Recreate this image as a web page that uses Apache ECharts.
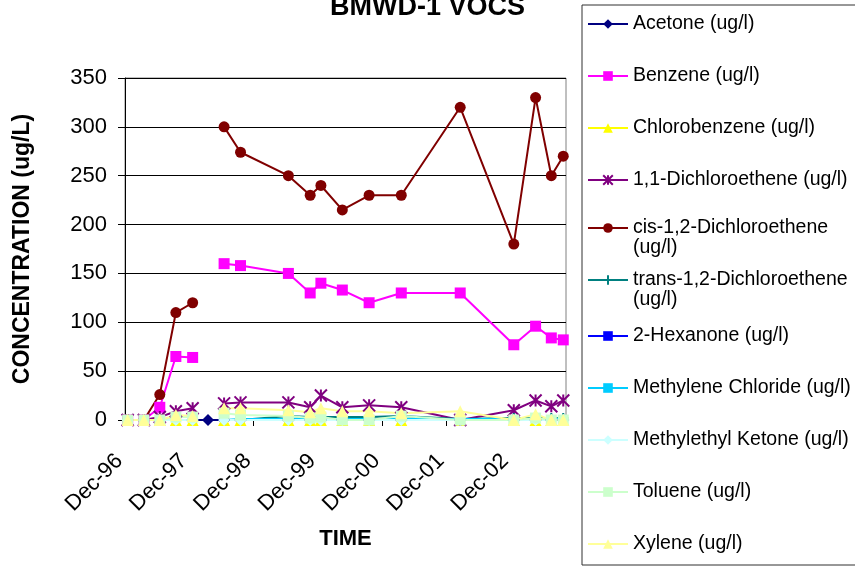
<!DOCTYPE html>
<html>
<head>
<meta charset="utf-8">
<script src="https://cdn.jsdelivr.net/npm/echarts@6/dist/echarts.min.js"></script>
<style>
  html, body { margin: 0; padding: 0; background: #ffffff; }
  #chart { width: 855px; height: 575px; }
</style>
</head>
<body>
<div id="chart"></div>
<script>
// Sampling dates of well BMWD-1
const sampleDates = [
  '1996-12-16', '1997-03-17', '1997-06-16', '1997-09-16', '1997-12-20',
  '1998-03-16', '1998-06-16', '1998-09-18', '1999-06-16', '1999-10-18',
  '1999-12-18', '2000-04-18', '2000-09-18', '2001-03-18', '2002-02-18',
  '2002-12-18', '2003-04-20', '2003-07-18', '2003-09-25'
];

// Time-axis tick labels (one per December)
const xTickLabels = ['Dec-96', 'Dec-97', 'Dec-98', 'Dec-99', 'Dec-00', 'Dec-01', 'Dec-02'];

// Concentrations in ug/l (null = not sampled)
const acetone            = [null, null, null, null, 0, 0, 0, 0, 0, 0, 0, 0, 0, 0, 0, 0, 0, 0, 0];
const benzene            = [0, 0, 13, 65, 64, null, 160, 158, 150, 130, 140, 133, 120, 130, 130, 77, 96, 84, 82];
const chlorobenzene      = [0, 0, 0, 0, 0, null, 0, 0, 0, 0, 0, 0, 0, 0, 0, 0, 0, 0, 0];
const dichloroethene11   = [0, 0, 3, 9, 12, null, 17, 18, 18, 13, 25, 13, 15, 13, 0, 10, 20, 14, 20];
const cisDichloroethene  = [0, 0, 26, 110, 120, null, 300, 274, 250, 230, 240, 215, 230, 230, 320, 180, 330, 250, 270];
const transDichloroethene= [0, 0, 0, 0, 0, null, 0, 0, 4, 3, 3, 3, 3, 4, 1, 2, 2, 2, 2];
const hexanone2          = [null, null, null, null, null, null, 0, 0, 0, 0, 0, 0, 0, 0, 0, 0, 0, 0, 0];
const methyleneChloride  = [0, 0, 0, 0, 0, null, 0, 1, 1, 1, 1, 1, 1, 1, 1, 1, 1, 1, 1];
const methylethylKetone  = [0, 0, 0, 0, 0, null, 0, 0, 0, 0, 0, 0, 0, 0, 0, 0, 0, 0, 0];
const toluene            = [0, 0, 0, 3, 3, null, 7, 5, 4, 2, 3, 0, 0, 4, 0, 0, 2, 0, 0];
const xylene             = [0, 0, 0, 5, 4, null, 12, 12, 10, 8, 12, 9, 9, 7, 9, 0, 6, 0, 0];

// Months elapsed since 1 Dec 1996
function monthsSinceDec96(s) {
  const [y, m, d] = s.split('-').map(Number);
  return (y - 1996) * 12 + (m - 12) + (d - 1) / 30.44;
}
const xMonths = sampleDates.map(monthsSinceDec96);

function pairs(values) {
  return values.map((v, i) => [xMonths[i], v]);
}

const ASTERISK = 'path://M0,0L10,10M10,0L0,10M5,0L5,10';
const PLUS = 'path://M5,0L5,10M0,5L10,5';
const DASH = 'path://M0,0L8,0L8,3L0,3Z';

const seriesDefs = [
  { name: 'Acetone (ug/l)', data: acetone, color: '#000080', symbol: 'diamond', size: [12, 12] },
  { name: 'Benzene (ug/l)', data: benzene, color: '#FF00FF', symbol: 'rect', size: 11 },
  { name: 'Chlorobenzene (ug/l)', data: chlorobenzene, color: '#FFFF00', symbol: 'triangle', size: 12 },
  { name: '1,1-Dichloroethene (ug/l)', data: dichloroethene11, color: '#800080', symbol: ASTERISK, size: 12, stroke: true },
  { name: 'cis-1,2-Dichloroethene (ug/l)', data: cisDichloroethene, color: '#800000', symbol: 'circle', size: 11, wrap: true },
  { name: 'trans-1,2-Dichloroethene (ug/l)', data: transDichloroethene, color: '#008080', symbol: PLUS, size: 10, stroke: true, wrap: true },
  { name: '2-Hexanone (ug/l)', data: hexanone2, color: '#0000FF', symbol: DASH, size: [8, 3], keepAspect: true },
  { name: 'Methylene Chloride (ug/l)', data: methyleneChloride, color: '#00CCFF', symbol: DASH, size: [8, 3], keepAspect: true },
  { name: 'Methylethyl Ketone (ug/l)', data: methylethylKetone, color: '#CCFFFF', symbol: 'diamond', size: [12, 12] },
  { name: 'Toluene (ug/l)', data: toluene, color: '#CCFFCC', symbol: 'rect', size: 11 },
  { name: 'Xylene (ug/l)', data: xylene, color: '#FFFF99', symbol: 'triangle', size: 12 }
];

const FONT = '"Liberation Sans", Arial, sans-serif';

const series = seriesDefs.map(d => ({
  name: d.name,
  type: 'line',
  data: pairs(d.data),
  connectNulls: false,
  symbol: d.symbol,
  symbolSize: d.size,
  symbolKeepAspect: !!d.keepAspect,
  showSymbol: true,
  animation: false,
  lineStyle: { color: d.color, width: 2 },
  itemStyle: d.stroke
    ? { color: d.color, borderColor: d.color, borderWidth: 2 }
    : { color: d.color, borderWidth: 0 },
  emphasis: { disabled: true }
}));

// One legend block per entry so each row sits at its own fixed height
const legendRowStart = 20;
const legendRowStep = 52;
const legendItemH = 12;
const legendLineH = 20;
const legends = seriesDefs.map((d, i) => {
  const center = legendRowStart + legendRowStep * i;
  const lg = {
    data: [d.name],
    left: 587,
    top: center - legendItemH / 2,
    padding: 0,
    itemWidth: 40,
    itemHeight: legendItemH,
    selectedMode: false,
    symbolKeepAspect: true,
    textStyle: { fontSize: 19.5, fontFamily: FONT, color: '#000000', lineHeight: legendLineH }
  };
  if (d.wrap) {
    // blank leading line keeps the first text line level with the marker
    lg.formatter = n => ' \n' + n.replace(' (ug/l)', '\n(ug/l)');
    lg.top = center - (3 * legendLineH) / 2;
  }
  return lg;
});

const chart = echarts.init(document.getElementById('chart'), null, { renderer: 'canvas' });
chart.setOption({
  backgroundColor: '#ffffff',
  animation: false,
  title: {
    text: 'BMWD-1 VOCS',
    left: 'center',
    top: -11,
    textStyle: { fontSize: 27, fontWeight: 'bold', fontFamily: FONT, color: '#000000' }
  },
  legend: legends,
  graphic: [{
    type: 'rect',
    shape: { x: 582, y: 5, width: 290, height: 560 },
    style: { fill: 'none', stroke: '#303030', lineWidth: 1 },
    silent: true,
    z: -1
  }],
  grid: {
    left: 125, right: 289, top: 78, bottom: 155,
    show: true, borderColor: '#808080', borderWidth: 1, backgroundColor: '#ffffff'
  },
  xAxis: {
    type: 'value',
    min: 0,
    max: 82.3,
    name: 'TIME',
    nameLocation: 'middle',
    nameGap: 108,
    nameTextStyle: { fontSize: 22, fontWeight: 'bold', fontFamily: FONT, color: '#000000' },
    axisLine: { show: true, lineStyle: { color: '#000000', width: 1 } },
    axisTick: { show: true, length: 6, customValues: [0, 12, 24, 36, 48, 60, 72], lineStyle: { color: '#000000' } },
    axisLabel: {
      customValues: [0, 12, 24, 36, 48, 60, 72],
      formatter: v => xTickLabels[Math.round(v / 12)] || '',
      rotate: 45,
      margin: 32,
      padding: [0, 8, 0, 0],
      fontSize: 22,
      fontFamily: FONT,
      color: '#000000'
    },
    splitLine: { show: false }
  },
  yAxis: {
    type: 'value',
    min: 0,
    max: 350,
    interval: 50,
    name: 'CONCENTRATION (ug/L)',
    nameLocation: 'middle',
    nameRotate: 90,
    nameGap: 91,
    nameTextStyle: { fontSize: 23, fontWeight: 'bold', fontFamily: FONT, color: '#000000' },
    axisLine: { show: true, lineStyle: { color: '#000000', width: 1 } },
    axisTick: { show: true, length: 7, lineStyle: { color: '#000000' } },
    axisLabel: { fontSize: 22, fontFamily: FONT, color: '#000000', margin: 18 },
    splitLine: { show: true, lineStyle: { color: '#000000', width: 1 } }
  },
  series: series
});
</script>
</body>
</html>
